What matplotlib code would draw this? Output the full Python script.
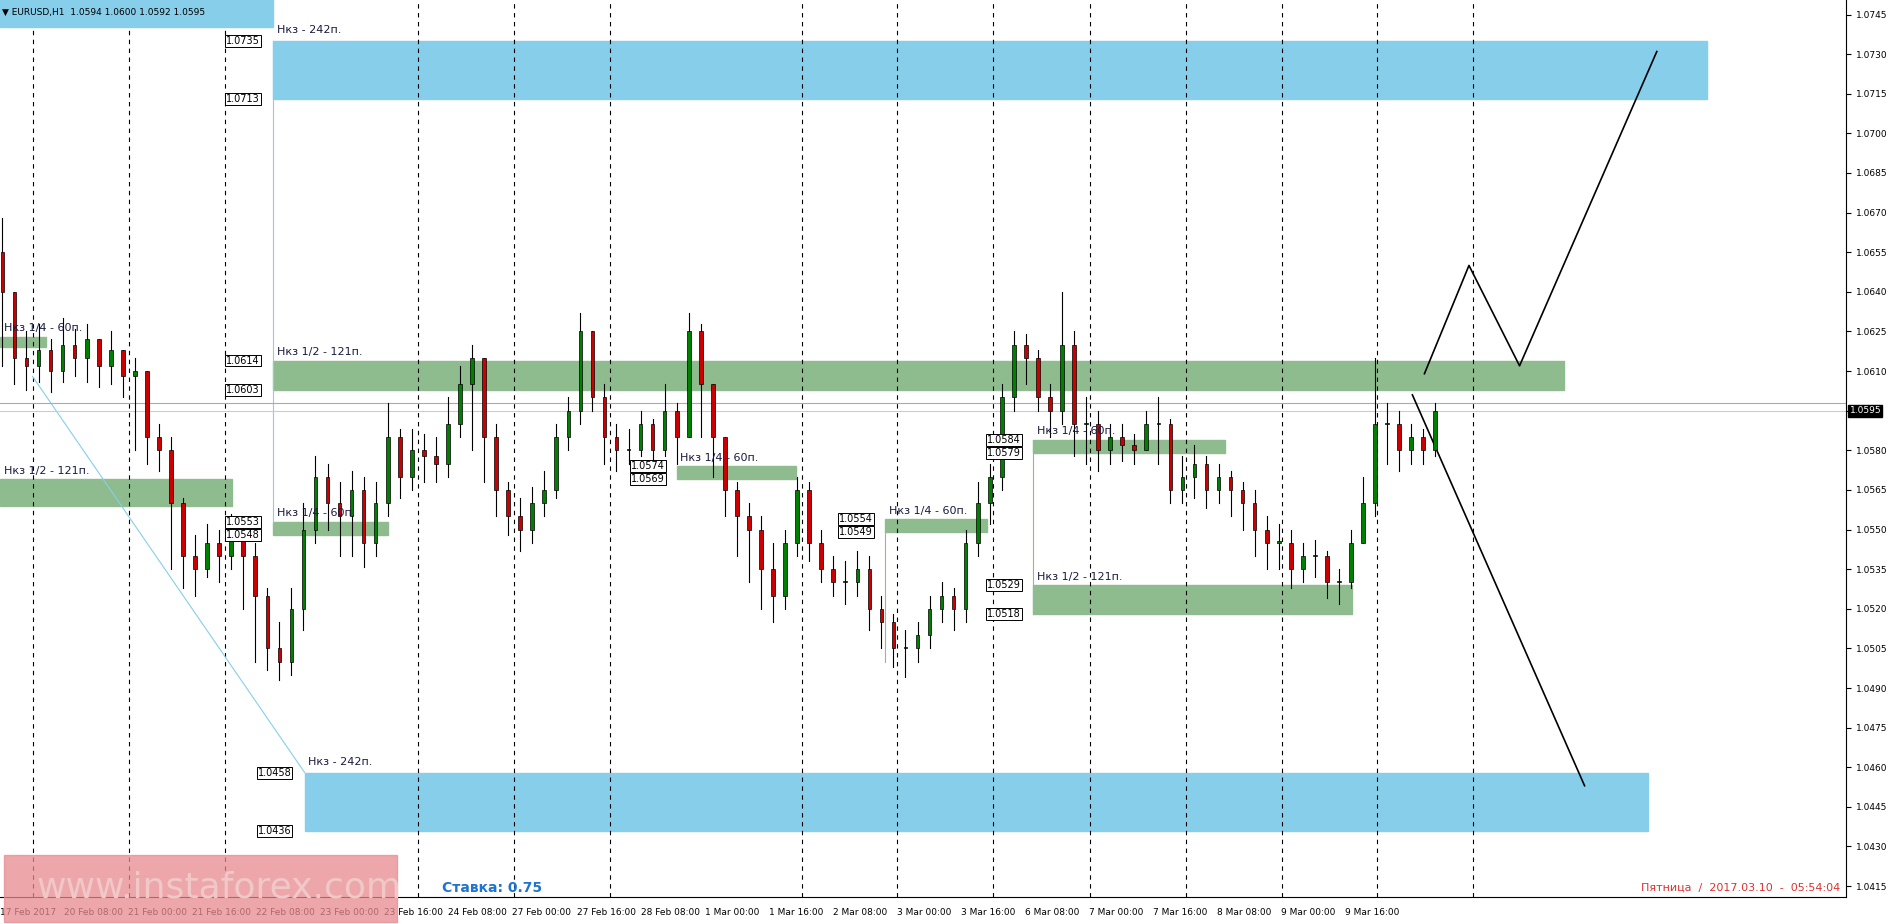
import matplotlib
matplotlib.use("Agg")
import matplotlib.pyplot as plt
from matplotlib.patches import Rectangle

# close prices of ~3h bars (x step 10 px-units)
closes = [1.0640,1.0615,1.0612,1.0618,1.0610,1.0620,1.0615,1.0622,1.0612,1.0618,1.0608,1.0610,
          1.0585,1.0580,1.0560,1.0540,1.0535,1.0545,1.0540,1.0550,1.0540,1.0525,1.0505,1.0500,
          1.0520,1.0550,1.0570,1.0560,1.0555,1.0565,1.0545,1.0560,1.0585,1.0570,1.0580,1.0578,
          1.0575,1.0590,1.0605,1.0615,1.0585,1.0565,1.0555,1.0550,1.0560,1.0565,1.0585,1.0595,
          1.0625,1.0600,1.0585,1.0580,1.0580,1.0590,1.0580,1.0595,1.0585,1.0625,1.0605,1.0585,
          1.0565,1.0555,1.0550,1.0535,1.0525,1.0545,1.0565,1.0545,1.0535,1.0530,1.0530,1.0535,
          1.0520,1.0515,1.0505,1.0505,1.0510,1.0520,1.0525,1.0520,1.0545,1.0560,1.0570,1.0600,
          1.0620,1.0615,1.0600,1.0595,1.0620,1.0590,1.0590,1.0580,1.0585,1.0582,1.0580,1.0590,
          1.0590,1.0565,1.0570,1.0575,1.0565,1.0570,1.0565,1.0560,1.0550,1.0545,1.0545,1.0535,
          1.0540,1.0540,1.0530,1.0530,1.0545,1.0560,1.0590,1.0590,1.0580,1.0585,1.0580,1.0595]
highs = [1.0668,1.0640,1.0625,1.0628,1.0622,1.0630,1.0626,1.0628,1.0622,1.0625,1.0618,1.0615,
         1.0610,1.0590,1.0585,1.0562,1.0548,1.0552,1.0550,1.0556,1.0552,1.0545,1.0528,1.0515,
         1.0528,1.0560,1.0578,1.0575,1.0568,1.0572,1.0570,1.0568,1.0598,1.0588,1.0588,1.0586,
         1.0585,1.0600,1.0612,1.0620,1.0615,1.0590,1.0568,1.0562,1.0566,1.0572,1.0590,1.0600,
         1.0632,1.0625,1.0605,1.0590,1.0588,1.0595,1.0592,1.0605,1.0598,1.0632,1.0628,1.0605,
         1.0585,1.0568,1.0560,1.0555,1.0545,1.0550,1.0570,1.0568,1.0550,1.0540,1.0538,1.0542,
         1.0540,1.0525,1.0518,1.0512,1.0515,1.0525,1.0530,1.0528,1.0550,1.0568,1.0575,1.0605,
         1.0625,1.0624,1.0618,1.0605,1.0640,1.0625,1.0600,1.0595,1.0590,1.0590,1.0586,1.0595,
         1.0600,1.0592,1.0578,1.0582,1.0578,1.0575,1.0572,1.0568,1.0565,1.0555,1.0552,1.0550,
         1.0545,1.0546,1.0542,1.0535,1.0550,1.0570,1.0615,1.0598,1.0595,1.0590,1.0588,1.0598]
lows = [1.0612,1.0605,1.0603,1.0606,1.0602,1.0606,1.0608,1.0606,1.0604,1.0605,1.0600,1.0580,
        1.0575,1.0572,1.0535,1.0528,1.0525,1.0532,1.0530,1.0535,1.0520,1.0500,1.0497,1.0493,
        1.0495,1.0512,1.0545,1.0550,1.0540,1.0540,1.0536,1.0540,1.0555,1.0562,1.0565,1.0568,
        1.0568,1.0570,1.0585,1.0580,1.0568,1.0555,1.0548,1.0542,1.0545,1.0555,1.0562,1.0580,
        1.0590,1.0595,1.0575,1.0572,1.0575,1.0578,1.0572,1.0578,1.0575,1.0585,1.0585,1.0570,
        1.0555,1.0540,1.0530,1.0520,1.0515,1.0520,1.0540,1.0538,1.0530,1.0525,1.0522,1.0525,
        1.0512,1.0505,1.0498,1.0494,1.0500,1.0505,1.0515,1.0512,1.0515,1.0540,1.0552,1.0565,
        1.0595,1.0605,1.0595,1.0585,1.0590,1.0578,1.0575,1.0572,1.0575,1.0576,1.0575,1.0580,
        1.0575,1.0560,1.0560,1.0562,1.0558,1.0560,1.0555,1.0550,1.0540,1.0535,1.0535,1.0528,
        1.0530,1.0532,1.0524,1.0522,1.0528,1.0545,1.0555,1.0575,1.0572,1.0575,1.0575,1.0578]

zones_blue = [(227, 1418, 1.0713, 1.0735, "Нкз - 242п."), (253, 1369, 1.0436, 1.0458, "Нкз - 242п.")]
zones_green = [(227, 1299, 1.0603, 1.0614, "Нкз 1/2 - 121п."),
               (0, 193, 1.0559, 1.0569, "Нкз 1/2 - 121п."),
               (0, 38, 1.0619, 1.0623, "Нкз 1/4 - 60п."),
               (227, 322, 1.0548, 1.0553, "Нкз 1/4 - 60п."),
               (562, 661, 1.0569, 1.0574, "Нкз 1/4 - 60п."),
               (735, 820, 1.0549, 1.0554, "Нкз 1/4 - 60п."),
               (858, 1017, 1.0579, 1.0584, "Нкз 1/4 - 60п."),
               (858, 1123, 1.0518, 1.0529, "Нкз 1/2 - 121п.")]
price_boxes = [(187, 1.0735, "1.0735"), (187, 1.0713, "1.0713"), (187, 1.0614, "1.0614"), (187, 1.0603, "1.0603"),
               (187, 1.0553, "1.0553"), (187, 1.0548, "1.0548"), (213, 1.0458, "1.0458"), (213, 1.0436, "1.0436"),
               (523, 1.0574, "1.0574"), (523, 1.0569, "1.0569"), (696, 1.0554, "1.0554"), (696, 1.0549, "1.0549"),
               (819, 1.0584, "1.0584"), (819, 1.0579, "1.0579"), (819, 1.0529, "1.0529"), (819, 1.0518, "1.0518")]
time_labels = ["17 Feb 2017","20 Feb 08:00","21 Feb 00:00","21 Feb 16:00","22 Feb 08:00","23 Feb 00:00","23 Feb 16:00",
               "24 Feb 08:00","27 Feb 00:00","27 Feb 16:00","28 Feb 08:00","1 Mar 00:00","1 Mar 16:00","2 Mar 08:00",
               "3 Mar 00:00","3 Mar 16:00","6 Mar 08:00","7 Mar 00:00","7 Mar 16:00","8 Mar 08:00","9 Mar 00:00","9 Mar 16:00"]
vlines = [27,107,187,347,427,507,666,745,825,905,985,1065,1144,1223]
path_up_x = [1183,1220,1262,1376]; path_up_y = [1.0609,1.0650,1.0612,1.0731]
path_dn_x = [1173,1316]; path_dn_y = [1.0601,1.0453]

fig = plt.figure(figsize=(18.88, 9.24), dpi=100)
ax = fig.add_axes([0, 0.029, 1533/1568, 0.971])
ax.set_xlim(0, 1533); ax.set_ylim(1.04108, 1.07505)
for s in ["top","left"]: ax.spines[s].set_visible(False)
ax.yaxis.tick_right()
ticks = [1.0415 + 0.0015*i for i in range(23)]
ax.set_yticks(ticks); ax.set_yticklabels(["" if abs(t-1.0595) < 1e-6 else f"{t:.4f}" for t in ticks], fontsize=6.5)
ax.set_xticks([])
for v in vlines:
    ax.axvline(v, color="black", ls=(0,(4,4)), lw=0.8)
for i, lab in enumerate(time_labels):
    ax.text(i*53.2, 1.04108-0.0004, lab, fontsize=6.5, ha="left", va="top", clip_on=False)

for x0, x1, lo, hi, lab in zones_blue:
    ax.add_patch(Rectangle((x0, lo), x1-x0, hi-lo, color="#87CEEB", zorder=1))
    ax.text(x0+3, hi+0.0003, lab, fontsize=8, color="#1a1a40")
for x0, x1, lo, hi, lab in zones_green:
    ax.add_patch(Rectangle((x0, lo), x1-x0, hi-lo, color="#8FBC8F", zorder=1))
    ax.text(x0+3, hi+0.0002, lab, fontsize=8, color="#1a1a40", zorder=5)
for x, p, t in price_boxes:
    ax.text(x+1, p, t, fontsize=7, va="center", ha="left", zorder=6,
            bbox=dict(boxstyle="square,pad=0.1", fc="white", ec="black", lw=0.7))
ax.plot([227,227],[1.0553,1.0735], color="#87CEEB", lw=0.8)
ax.plot([858,858],[1.0518,1.0584], color="#8FBC8F", lw=0.8)
ax.plot([735,735],[1.0549,1.0500], color="#8FBC8F", lw=0.8)
ax.plot([27,253],[1.0608,1.0458], color="#87CEEB", lw=0.8)

ax.axhline(1.0598, color="#aaaaaa", lw=0.8); ax.axhline(1.0595, color="#cccccc", lw=0.8)
ax.text(1536, 1.0595, "1.0595", fontsize=6.5, color="white", va="center", clip_on=False,
        bbox=dict(boxstyle="square,pad=0.15", fc="black"))

prev = closes[0] + 0.0015
for i, c in enumerate(closes):
    x = i*10 + 2
    o = prev
    col = "green" if c >= o else "#cc0000"
    ax.plot([x, x], [lows[i], highs[i]], color="black", lw=0.8, zorder=3)
    ax.add_patch(Rectangle((x-1.5, min(o, c)), 3, max(abs(c-o), 0.00005), fc=col, ec="black", lw=0.5, zorder=4))
    prev = c

ax.plot(path_up_x, path_up_y, color="black", lw=1.2)
ax.plot(path_dn_x, path_dn_y, color="black", lw=1.2)

fig.patches.append(Rectangle((0, 1-22/767), 227/1568, 22/767, transform=fig.transFigure, color="#87CEEB"))
fig.text(2/1568, 1-10/767, "▼ EURUSD,H1  1.0594 1.0600 1.0592 1.0595", fontsize=6.5, va="center")
fig.patches.append(Rectangle((3/1568, 2/767), 327/1568, 55/767, transform=fig.transFigure, color="#e88a8f", alpha=0.75, zorder=10))
fig.text(30/1568, 30/767, "www.instaforex.com", fontsize=26, color="#f0c8c8", va="center", zorder=11)
fig.text(367/1568, 30/767, "Ставка: 0.75", fontsize=10, color="#1e74d0", weight="bold", va="center")
fig.text(1528/1568, 30/767, "Пятница  /  2017.03.10  -  05:54:04", fontsize=8, color="#e03030", ha="right", va="center")
fig.savefig("out.png")
